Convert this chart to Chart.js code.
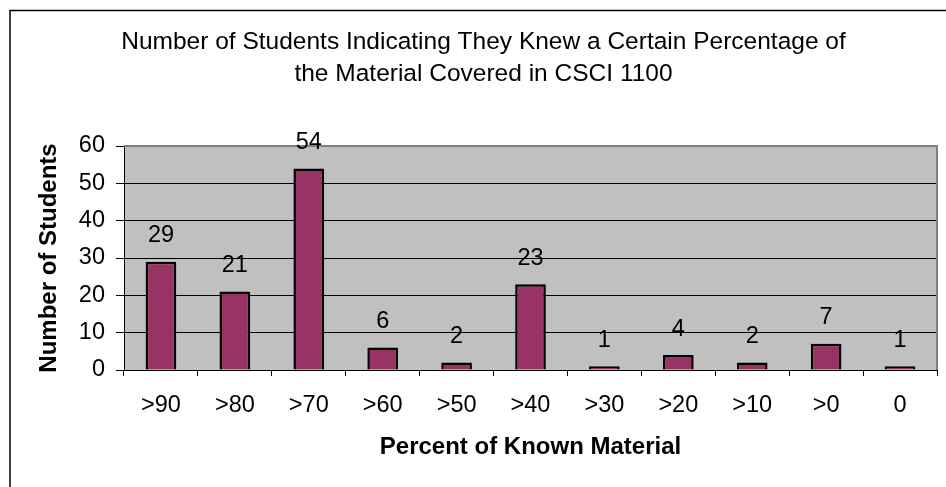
<!DOCTYPE html>
<html>
<head>
<meta charset="utf-8">
<title>Number of Students Indicating They Knew a Certain Percentage of the Material Covered in CSCI 1100</title>
<script src="https://cdn.jsdelivr.net/npm/chart.js@4.4.1/dist/chart.umd.min.js"></script>
<style>
    html, body { margin: 0; padding: 0; background: #ffffff; }
    #wrap { width: 946px; height: 487px; position: relative; }
</style>
</head>
<body>
<div id="wrap"><canvas id="studentsChart"></canvas></div>
<script>
// Chart data
const categories = ['>90', '>80', '>70', '>60', '>50', '>40', '>30', '>20', '>10', '>0', '0'];
const studentCounts = [29, 21, 54, 6, 2, 23, 1, 4, 2, 7, 1];
const yTickValues = [0, 10, 20, 30, 40, 50, 60];
const titleLines = [
    'Number of Students Indicating They Knew a Certain Percentage of',
    'the Material Covered in CSCI 1100'
];
const xAxisTitle = 'Percent of Known Material';
const yAxisTitle = 'Number of Students';

const FONT = '"Liberation Sans", Arial, sans-serif';

// Grey plot area, drawn under the grid
const plotBackground = {
    id: 'plotBackground',
    beforeDraw(chart) {
        const { ctx, chartArea: a } = chart;
        ctx.save();
        ctx.fillStyle = '#C0C0C0';
        ctx.fillRect(a.left, a.top, a.right - a.left, a.bottom - a.top);
        ctx.restore();
    },
    afterDatasetsDraw(chart) {
        const { ctx, chartArea: a } = chart;
        ctx.save();
        ctx.strokeStyle = '#808080';
        ctx.lineWidth = 2;
        ctx.beginPath();
        ctx.moveTo(a.left, a.top);
        ctx.lineTo(a.right, a.top);
        ctx.lineTo(a.right, a.bottom);
        ctx.stroke();
        // outer chart frame (runs off the right and bottom edge)
        ctx.strokeStyle = '#000000';
        ctx.lineWidth = 1.5;
        ctx.strokeRect(10, 10.5, 2000, 2000);
        ctx.restore();
    }
};

// Value labels above each bar
const valueLabels = {
    id: 'valueLabels',
    afterDatasetsDraw(chart) {
        const { ctx } = chart;
        const meta = chart.getDatasetMeta(0);
        ctx.save();
        ctx.font = '23.5px ' + FONT;
        ctx.fillStyle = '#000000';
        ctx.textAlign = 'center';
        ctx.textBaseline = 'middle';
        meta.data.forEach((bar, i) => {
            ctx.fillText(String(studentCounts[i]), bar.x, bar.y - 26);
        });
        ctx.restore();
    }
};

new Chart(document.getElementById('studentsChart'), {
    type: 'bar',
    data: {
        labels: categories,
        datasets: [{
            data: studentCounts,
            backgroundColor: '#993366',
            borderColor: '#000000',
            borderWidth: 2.5,
            barPercentage: 0.415,
            categoryPercentage: 1
        }]
    },
    options: {
        responsive: true,
        maintainAspectRatio: false,
        animation: false,
        layout: {
            padding: { left: 30, right: 9, top: 0, bottom: 0 }
        },
        plugins: {
            legend: { display: false },
            tooltip: { enabled: false },
            title: {
                display: true,
                text: titleLines,
                color: '#000000',
                font: { family: FONT, size: 24.5, weight: 'normal', lineHeight: 1.3 },
                padding: { top: 26, bottom: 56.3 }
            }
        },
        scales: {
            x: {
                offset: true,
                grid: {
                    display: true,
                    offset: true,
                    drawOnChartArea: false,
                    tickLength: 6,
                    color: '#000000'
                },
                border: { color: '#000000', width: 1 },
                ticks: {
                    color: '#000000',
                    font: { family: FONT, size: 23.5 },
                    padding: 15.5,
                    maxRotation: 0
                },
                title: {
                    display: true,
                    text: xAxisTitle,
                    color: '#000000',
                    font: { family: FONT, size: 24, weight: 'bold' },
                    padding: { top: 0, bottom: 25 }
                },
                afterFit(scale) {
                    scale.height = 117;
                }
            },
            y: {
                min: 0,
                max: 60,
                afterBuildTicks(scale) {
                    scale.ticks = yTickValues.map(v => ({ value: v }));
                },
                grid: {
                    color: c => (c.tick && c.tick.value === 60 ? '#808080' : '#000000'),
                    tickColor: '#000000',
                    tickLength: 8,
                    lineWidth: 1
                },
                border: { color: '#000000', width: 1 },
                ticks: {
                    color: '#000000',
                    font: { family: FONT, size: 23.5 },
                    padding: 11
                },
                title: {
                    display: true,
                    text: yAxisTitle,
                    color: '#000000',
                    font: { family: FONT, size: 24, weight: 'bold' },
                    padding: { top: 5, bottom: 0 }
                },
                afterFit(scale) {
                    scale.width = 94;
                }
            }
        }
    },
    plugins: [plotBackground, valueLabels]
});
</script>
</body>
</html>
